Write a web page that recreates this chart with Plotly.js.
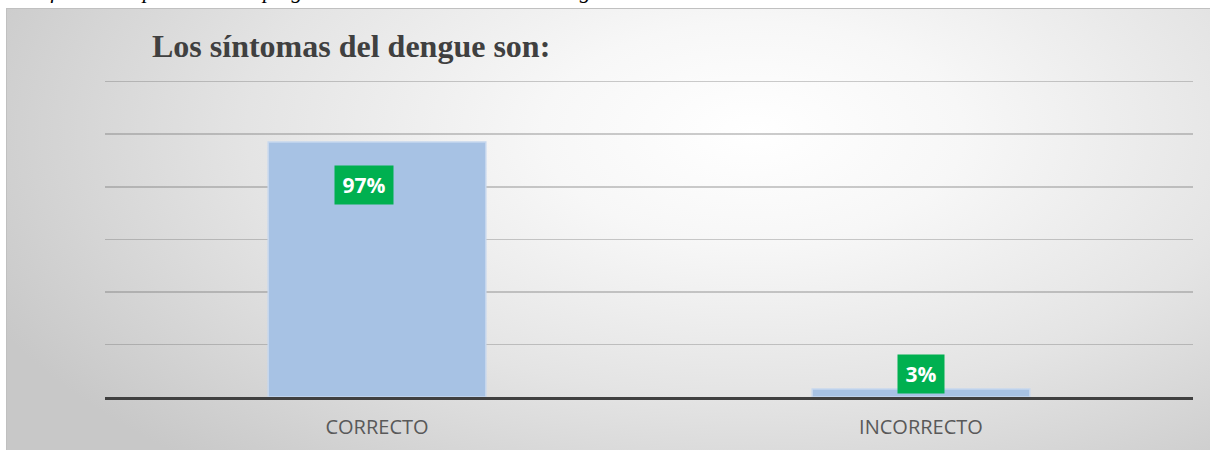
<!DOCTYPE html>
<html>
<head>
<meta charset="utf-8">
<script src="https://cdn.plot.ly/plotly-3.0.1.min.js"></script>
<style>
  html, body { margin: 0; padding: 0; background: #ffffff; }
  #wrap { position: relative; width: 1210px; height: 450px; overflow: hidden; }
  #bg {
    position: absolute; left: 6px; top: 8px; width: 1204px; height: 442px;
    background: radial-gradient(ellipse 70% 100% at 62% 28%, #ffffff 0%, #f7f7f7 25%, #e4e4e4 60%, #c8c8c8 100%);
    border-top: 1px solid #c0c0c0; border-left: 1px solid #c0c0c0;
    box-sizing: border-box;
  }
  #chart { position: absolute; left: 0; top: 0; width: 1210px; height: 450px; }
</style>
</head>
<body>
<div id="wrap">
  <div id="bg"></div>
  <div id="chart"></div>
</div>
<script>
// Data
const categories = ["CORRECTO", "INCORRECTO"];
const values = [0.97, 0.03];
const valueLabels = ["97%", "3%"];
const gridTicks = [0.2, 0.4, 0.6, 0.8, 1.0, 1.2];
const chartTitle = "Los síntomas del dengue son:";
const captionText = "Gráfico 4. Respuestas de la pregunta sobre los síntomas del dengue";

const trace = {
  type: "bar",
  x: categories,
  y: values,
  marker: { color: "#a7c2e4", line: { color: "#c6d7ee", width: 1.5 } },
  hoverinfo: "skip"
};

const labelShifts = [-13, 0];
const labelWidths = [58, 46];
const annotations = categories.map((c, i) => ({
  x: c, y: values[i], xref: "x", yref: "y",
  text: "<b>" + valueLabels[i] + "</b>",
  showarrow: false,
  font: { family: "Open Sans", size: 21, color: "#ffffff" },
  bgcolor: "#00b050",
  borderpad: 0,
  width: labelWidths[i], height: 38,
  xshift: labelShifts[i],
  yanchor: i === 0 ? "top" : "bottom",
  yshift: i === 0 ? -23 : -5
}));

annotations.push({
  xref: "paper", yref: "paper", x: -0.085, y: 1.25,
  xanchor: "left", yanchor: "middle", yshift: 9,
  text: "<i>" + captionText + "</i>",
  showarrow: false,
  font: { family: "Liberation Serif", size: 22, color: "#000000" }
});

const layout = {
  width: 1210, height: 450,
  paper_bgcolor: "rgba(0,0,0,0)",
  plot_bgcolor: "rgba(0,0,0,0)",
  margin: { l: 105, r: 17, t: 79, b: 53, pad: 0 },
  showlegend: false,
  bargap: 0.6,
  title: {
    text: "<b>" + chartTitle + "</b>",
    font: { family: "Liberation Serif", size: 32, color: "#404040" },
    xref: "container", yref: "container",
    x: 152 / 1210, xanchor: "left",
    y: 1 - 46 / 450, yanchor: "middle"
  },
  xaxis: {
    type: "category",
    showgrid: false,
    showline: true, linecolor: "#404040", linewidth: 3,
    ticks: "",
    ticklabelstandoff: 10,
    tickfont: { family: "Open Sans", size: 20, color: "#595959" },
    fixedrange: true
  },
  yaxis: {
    range: [0, 1.21],
    tickmode: "array", tickvals: gridTicks,
    showticklabels: false, ticks: "",
    showgrid: true, gridcolor: "rgba(110,110,110,0.35)", gridwidth: 1.5,
    zeroline: false,
    fixedrange: true
  },
  annotations: annotations
};

Plotly.newPlot("chart", [trace], layout, { displayModeBar: false, staticPlot: true });
</script>
</body>
</html>
